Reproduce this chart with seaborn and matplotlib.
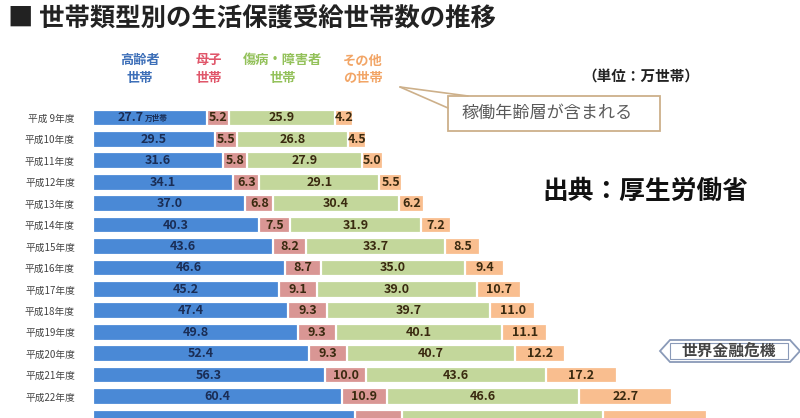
import numpy as np
import pandas as pd
import matplotlib
matplotlib.use("Agg")
import matplotlib.pyplot as plt
from matplotlib.patches import Polygon, Rectangle
from matplotlib.lines import Line2D
import seaborn as sns

# ============================================
# DATA (万世帯)
# ============================================
years = ["平成 9年度", "平成10年度", "平成11年度", "平成12年度", "平成13年度",
         "平成14年度", "平成15年度", "平成16年度", "平成17年度", "平成18年度",
         "平成19年度", "平成20年度", "平成21年度", "平成22年度", "平成23年度"]
elderly = [27.7, 29.5, 31.6, 34.1, 37.0, 40.3, 43.6, 46.6, 45.2, 47.4, 49.8, 52.4, 56.3, 60.4, 63.6]
mother = [5.2, 5.5, 5.8, 6.3, 6.8, 7.5, 8.2, 8.7, 9.1, 9.3, 9.3, 9.3, 10.0, 10.9, 11.3]
disabled = [25.9, 26.8, 27.9, 29.1, 30.4, 31.9, 33.7, 35.0, 39.0, 39.7, 40.1, 40.7, 43.6, 46.6, 48.8]
other = [4.2, 4.5, 5.0, 5.5, 6.2, 7.2, 8.5, 9.4, 10.7, 11.0, 11.1, 12.2, 17.2, 22.7, 25.3]

series_names = ["高齢者\n世帯", "母子\n世帯", "傷病・障害者\n世帯", "その他\nの世帯"]
bar_colors = ["#4a89d6", "#d99694", "#c3d79b", "#f9be8f"]
head_colors = ["#3d6fb8", "#e0566a", "#93c15a", "#f2a566"]

df = pd.DataFrame({"year": years, "elderly": elderly, "mother": mother,
                   "disabled": disabled, "other": other})
cols = ["elderly", "mother", "disabled", "other"]
cum = df[cols].cumsum(axis=1)

# last row is cut off at the bottom edge of the picture
n_visible = 14

# ============================================
# PLOT
# ============================================
sns.set_style("white")
plt.rcParams["font.family"] = ["Noto Sans CJK JP", "DejaVu Sans"]

W, H = 800, 418
fig = plt.figure(figsize=(8, 4.18), dpi=100)

def fx(x):
    return x / W

def fy(y):
    return 1 - y / H

ax = fig.add_axes([fx(93), 0, 1 - fx(93), fy(105)])

# draw stacked bars back to front so white edges split segments
for col, c in zip(reversed(cols), reversed(bar_colors)):
    sns.barplot(x=cum[col], y=df["year"], color=c, orient="h", width=0.78,
                saturation=1, edgecolor="white", linewidth=1.6, errorbar=None, ax=ax)

ax.set_xlim(0, (W - 93) / 4.12)
ax.set_ylim(13.8, -0.6)
ax.set_xlabel("")
ax.set_ylabel("")
ax.set_xticks([])
ax.set_yticks(range(len(years)))
ax.set_yticklabels([y if i < n_visible else "" for i, y in enumerate(years)])
sns.despine(ax=ax, left=True, bottom=True)
ax.tick_params(axis="y", length=0, pad=13, labelsize=7, labelcolor="#444444")

# value labels
for i in range(n_visible):
    left = 0.0
    for j, col in enumerate(cols):
        v = df[col].iloc[i]
        txt = f"{v:.1f}"
        tc = "#1a2d55" if j == 0 else "#3a2a10"
        if i == 0 and j == 0:
            ax.text(left + v / 2 - 1.5, i, txt, ha="right", va="center",
                    fontsize=9, color=tc, fontweight="bold")
            ax.text(left + v / 2 - 1.3, i + 0.05, "万世帯", ha="left", va="center",
                    fontsize=5.5, color=tc, fontweight="bold")
        else:
            ax.text(left + v / 2, i, txt, ha="center", va="center",
                    fontsize=9, color=tc, fontweight="bold")
        left += v

# ============================================
# TEXT / ANNOTATIONS
# ============================================
fig.text(fx(8), fy(19), "■ 世帯類型別の生活保護受給世帯数の推移", ha="left", va="center",
         fontsize=18.3, fontweight="bold", color="#222222")

head_x = [140, 209, 283, 363]
for name, hx, hc in zip(series_names, head_x, head_colors):
    fig.text(fx(hx), fy(69), name, ha="center", va="center", fontsize=9.5,
             fontweight="bold", color=hc, linespacing=1.3)

fig.text(fx(641), fy(77), "（単位：万世帯）", ha="center", va="center",
         fontsize=10.5, fontweight="bold", color="#222222")

fig.text(fx(645), fy(191), "出典：厚生労働省", ha="center", va="center",
         fontsize=18.5, fontweight="bold", color="#111111")

# callout box
edge_tan = "#cdb08a"
fig.add_artist(Line2D([fx(400), fx(468)], [fy(87), fy(96)], color=edge_tan, lw=1.2))
fig.add_artist(Line2D([fx(400), fx(448)], [fy(87), fy(108)], color=edge_tan, lw=1.2))
fig.add_artist(Rectangle((fx(448), fy(131)), fx(660) - fx(448), fy(96) - fy(131),
                         facecolor="white", edgecolor=edge_tan, lw=1.3))
fig.text(fx(461), fy(113), "稼働年齢層が含まれる", ha="left", va="center",
         fontsize=12.3, color="#5a5a5a")

# 世界金融危機 tag
tag = [(660, 351), (670, 340), (790, 340), (800, 351), (790, 362), (670, 362)]
fig.add_artist(Polygon([(fx(x), fy(y)) for x, y in tag], closed=True,
                       facecolor="white", edgecolor="#8a9ab8", lw=1.3))
inner = [(670, 343), (788, 343), (788, 359), (670, 359)]
fig.add_artist(Polygon([(fx(x), fy(y)) for x, y in inner], closed=True,
                       facecolor="none", edgecolor="#8a9ab8", lw=0.8))
fig.text(fx(729), fy(351), "世界金融危機", ha="center", va="center",
         fontsize=11.3, fontweight="bold", color="#444444")

fig.savefig("out.png", dpi=100)
plt.close(fig)
